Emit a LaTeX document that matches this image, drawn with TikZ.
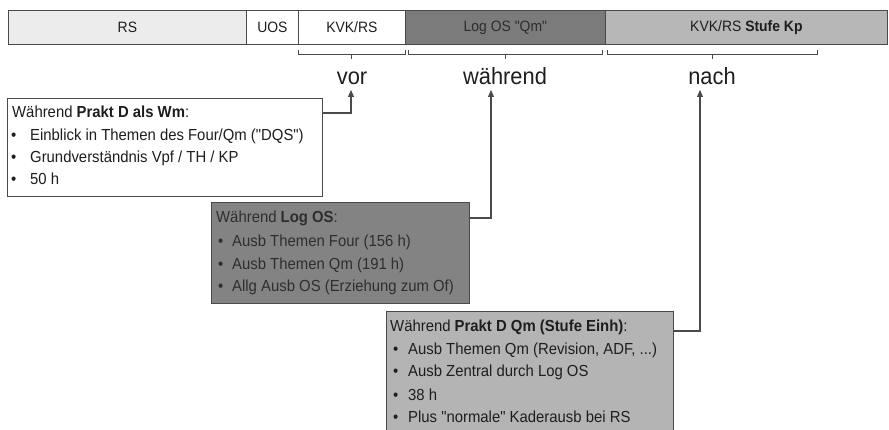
\documentclass[tikz,border=0pt]{standalone}
\usepackage{fontspec}
\setmainfont{Liberation Sans}[FakeStretch=0.93, Ligatures=TeXOff]
\usetikzlibrary{arrows.meta,calc}
\definecolor{linecol}{HTML}{4A4A4A}
\definecolor{rsfill}{HTML}{ECECEC}
\definecolor{logfill}{HTML}{7B7B7B}
\definecolor{kpfill}{HTML}{B7B7B7}
\definecolor{boxtwofill}{HTML}{838383}
\definecolor{boxthreefill}{HTML}{B4B4B4}
\definecolor{txtcol}{HTML}{1E1E1E}
\definecolor{darktxt}{HTML}{2E2E2E}
\tikzset{
  seg/.style={draw=linecol, line width=0.8pt, inner sep=0pt, minimum height=34pt,
    anchor=north west, font=\fontsize{15}{18}\selectfont, text=txtcol},
  infobox/.style={draw=linecol, line width=1pt, inner sep=0pt, anchor=north west},
  txt/.style={anchor=base west, inner sep=0pt, font=\fontsize{16}{20}\selectfont, text=txtcol},
  lbl/.style={anchor=base, inner sep=0pt, font=\fontsize{23.5}{26}\selectfont, text=txtcol},
  brace/.style={draw=linecol, line width=1pt},
  conn/.style={draw=linecol, line width=1.1pt, -{Triangle[length=7pt,width=6pt]}}
}
\begin{document}
\begin{tikzpicture}[x=1pt,y=-1pt]
\path[use as bounding box] (0,0) rectangle (889,430);
% top bar
\node[seg, fill=rsfill, minimum width=238pt] (rs) at (8,10) {RS};
\node[seg, fill=white, minimum width=52pt] (uos) at (246,10) {UOS};
\node[seg, fill=white, minimum width=107pt] (kvk) at (298,10) {KVK/RS};
\node[seg, fill=logfill, minimum width=200pt, text=darktxt] (log) at (405,10) {Log OS "Qm"};
\node[seg, fill=kpfill, minimum width=282pt] (kp) at (605,10) {KVK/RS \textbf{Stufe Kp}};
% braces
\draw[brace] (298,50) -- (298,55) -- (405,55) -- (405,50) (351,55) -- (351,59);
\draw[brace] (408,50) -- (408,55) -- (602,55) -- (602,50) (505,55) -- (505,59);
\draw[brace] (607,50) -- (607,55) -- (817,55) -- (817,50) (712,55) -- (712,59);
% labels
\node[lbl] (vor) at (352,85) {vor};
\node[lbl] (waehrend) at (505,85) {während};
\node[lbl] (nach) at (712,85) {nach};
\coordinate (vortip) at (351,90);
\coordinate (waehrendtip) at (491,90);
\coordinate (nachtip) at (700,90);
% box 1
\node[infobox, fill=white, minimum width=315pt, minimum height=98pt] (box1) at (7,98) {};
\node[txt] (b1h) at (12,118) {Während \textbf{Prakt D als Wm}:};
\node[txt] (b1a) at (11,141) {\makebox[19pt][l]{•}Einblick in Themen des Four/Qm ("DQS")};
\node[txt] (b1b) at (11,163) {\makebox[19pt][l]{•}Grundverständnis Vpf / TH / KP};
\node[txt] (b1c) at (11,185) {\makebox[19pt][l]{•}50 h};
% box 2
\node[infobox, fill=boxtwofill, minimum width=258pt, minimum height=101pt] (box2) at (211,202) {};
\node[txt, text=darktxt] (b2h) at (216,223) {Während \textbf{Log OS}:};
\node[txt, text=darktxt] (b2a) at (218,247) {\makebox[14pt][l]{•}Ausb Themen Four (156 h)};
\node[txt, text=darktxt] (b2b) at (218,270) {\makebox[14pt][l]{•}Ausb Themen Qm (191 h)};
\node[txt, text=darktxt] (b2c) at (218,292) {\makebox[14pt][l]{•}Allg Ausb OS (Erziehung zum Of)};
% box 3
\node[infobox, fill=boxthreefill, minimum width=287pt, minimum height=140pt] (box3) at (386,311) {};
\node[txt] (b3h) at (390,332) {Während \textbf{Prakt D Qm (Stufe Einh)}:};
\node[txt] (b3a) at (393,355) {\makebox[15pt][l]{•}Ausb Themen Qm (Revision, ADF, ...)};
\node[txt] (b3b) at (393,377) {\makebox[15pt][l]{•}Ausb Zentral durch Log OS};
\node[txt] (b3c) at (393,400) {\makebox[15pt][l]{•}38 h};
\node[txt] (b3d) at (393,422) {\makebox[15pt][l]{•}Plus "normale" Kaderausb bei RS};
% connectors
\draw[conn] ($(box1.north east)+(0,15)$) -| (vortip);
\draw[conn] ($(box2.north east)+(0,16)$) -| (waehrendtip);
\draw[conn] ($(box3.north east)+(0,20)$) -| (nachtip);
\end{tikzpicture}
\end{document}
